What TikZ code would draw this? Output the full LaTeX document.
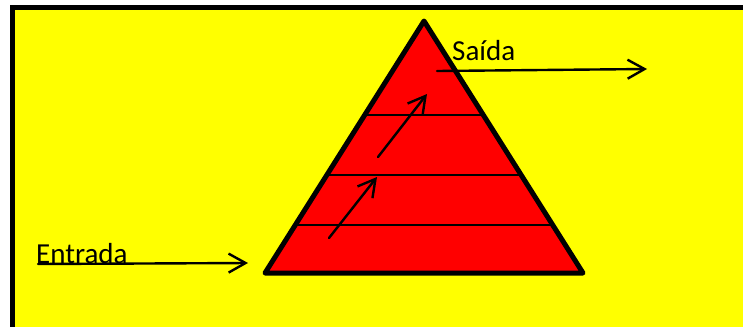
\documentclass[tikz,border=0pt]{standalone}
\usepackage{fontspec}
\setmainfont{Carlito}
\usepackage{tikz}
\usetikzlibrary{arrows.meta,calc}
\definecolor{bgyellow}{RGB}{255,255,0}
\definecolor{pyrred}{RGB}{255,0,0}
\tikzset{
  flowarr/.style  = {-{Straight Barb[length=17pt,width=19pt]},line width=2.4pt,line cap=round},
  levelline/.style = {line width=1.8pt},
  label/.style    = {font=\fontsize{29}{33}\selectfont,inner sep=0pt}
}

\begin{document}
\begin{tikzpicture}[x=1pt,y=-1pt]
  \useasboundingbox (0,0) rectangle (743,327);
  \clip (0,0) rectangle (743,327);
  % frame
  \fill[black] (10,5) rectangle (743,327);
  \fill[bgyellow] (15,10) rectangle (743,327);
  % pyramid
  \coordinate (apex) at (424,21);
  \coordinate (bl) at (265,273);
  \coordinate (br) at (583,273);
  \fill[pyrred] (apex) -- (br) -- (bl) -- cycle;
  \foreach \t in {0.373,0.611,0.810}
    \draw[levelline] ($(apex)!\t!(bl)$) -- ($(apex)!\t!(br)$);
  \draw[line width=5pt,line join=round] (apex) -- (br) -- (bl) -- cycle;
  % inner steps
  \coordinate (s1) at (329,238); \coordinate (e1) at (377,177);
  \coordinate (s2) at (378,157); \coordinate (e2) at (427,94);
  \draw[flowarr] (s1) -- (e1);
  \draw[flowarr] (s2) -- (e2);
  % input and output
  \node[label,anchor=base west] (entrada) at (36,263) {Entrada};
  \coordinate (inA) at (38,264); \coordinate (inB) at (248,263);
  \draw[flowarr] (inA) -- (inB);
  \node[label,anchor=base west] (saida) at (452,60) {Saída};
  \coordinate (outA) at (437,71); \coordinate (outB) at (647,69);
  \draw[flowarr] (outA) -- (outB);
\end{tikzpicture}
\end{document}
